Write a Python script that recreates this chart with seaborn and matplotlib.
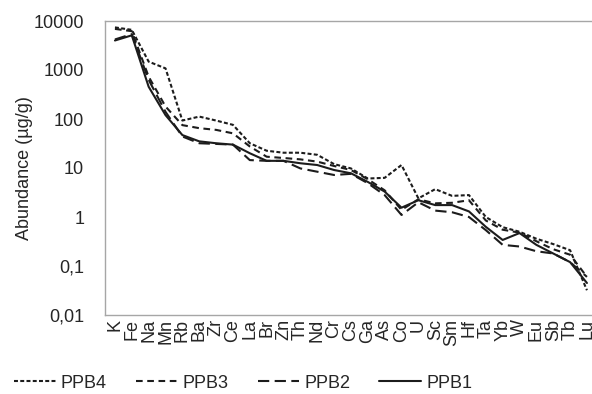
import matplotlib
matplotlib.use("Agg")
import matplotlib.pyplot as plt
from matplotlib.lines import Line2D
import seaborn as sns
import numpy as np
import pandas as pd

elements = ["K", "Fe", "Na", "Mn", "Rb", "Ba", "Zr", "Ce", "La", "Br", "Zn", "Th",
            "Nd", "Cr", "Cs", "Ga", "As", "Co", "U", "Sc", "Sm", "Hf", "Ta", "Yb",
            "W", "Eu", "Sb", "Tb", "Lu"]

ppb4 = [7400, 6600, 1480, 1080, 93, 112, 93, 76, 32, 22.5, 20.5, 20.5, 18.6, 12,
        9.8, 6.1, 6.3, 11.5, 2.4, 3.7, 2.7, 2.8, 1.0, 0.62, 0.50, 0.36, 0.28, 0.21, 0.032]
ppb3 = [6900, 6200, 730, 180, 75, 65, 60, 51, 27.5, 17, 16, 15, 13.5, 11,
        9.1, 5.9, 3.5, 1.4, 2.3, 1.9, 1.95, 2.2, 0.85, 0.55, 0.48, 0.32, 0.22, 0.17, 0.06]
ppb2 = [4200, 5400, 630, 140, 44, 32, 31, 30, 14.5, 14, 14, 9.8, 8.4, 7.2,
        7.6, 4.9, 2.8, 1.1, 2.0, 1.35, 1.25, 1.0, 0.54, 0.27, 0.25, 0.2, 0.18, 0.12, 0.06]
ppb1 = [4000, 5100, 455, 120, 47, 35, 32, 30, 20, 14, 14, 12.5, 11.5, 9.1,
        7.8, 5.2, 3.3, 1.55, 2.2, 1.75, 1.75, 1.3, 0.63, 0.34, 0.47, 0.27, 0.18, 0.12, 0.045]

samples = ["PPB4", "PPB3", "PPB2", "PPB1"]
series = {"PPB4": ppb4, "PPB3": ppb3, "PPB2": ppb2, "PPB1": ppb1}

y_ticks = [0.01, 0.1, 1, 10, 100, 1000, 10000]
y_ticklabels = ["0,01", "0,1", "1", "10", "100", "1000", "10000"]

df = pd.DataFrame([
    {"pos": i, "element": el, "sample": s, "value": v}
    for s in samples
    for i, (el, v) in enumerate(zip(elements, series[s]))
])

sns.set_style("white")
plt.rcParams["font.family"] = ["Liberation Sans", "DejaVu Sans"]

ink = "#1c1c1c"
text_c = "#262626"
lw = 1.5
fs = 13
dashes = {"PPB4": (1.9, 1.1), "PPB3": (3.2, 2.2), "PPB2": (5.4, 2.6), "PPB1": ""}

fig = plt.figure(figsize=(5.92, 3.94), dpi=100)
ax = fig.add_axes([105 / 592, 1 - 315 / 394, 1 - 105 / 592, (315 - 21) / 394])

sns.lineplot(data=df, x="pos", y="value", style="sample", style_order=samples,
             dashes=dashes, color=ink, linewidth=lw, legend=False, sort=False,
             estimator=None, ax=ax)

ax.set_yscale("log")
ax.set_ylim(0.01, 10000)
ax.set_xlim(-0.59, 28.3)
ax.set_yticks(y_ticks)
ax.set_yticklabels(y_ticklabels)
ax.yaxis.set_minor_locator(matplotlib.ticker.NullLocator())
ax.set_xticks(range(len(elements)))
ax.set_xticklabels(elements, rotation=90)

ax.tick_params(axis="y", length=0, pad=15, labelsize=fs, labelcolor=text_c)
ax.tick_params(axis="x", direction="in", length=3, width=0.8, color="#9a9a9a",
               pad=3, labelsize=fs, labelcolor=text_c)

ax.set_xlabel("")
ax.set_ylabel("Abundance (µg/g)", fontsize=fs, color=text_c)
ax.yaxis.set_label_coords(-0.148, 0.5)

for side in ["left", "bottom", "top"]:
    ax.spines[side].set_color("#a6a6a6")
    ax.spines[side].set_linewidth(1.0)
ax.spines["right"].set_visible(False)

handles = [Line2D([], [], color=ink, linewidth=lw,
                  linestyle=(0, dashes[s]) if dashes[s] else "-") for s in samples]
fig.legend(handles, samples, loc="center left", bbox_to_anchor=(14 / 592, 1 - 383 / 394),
           ncol=4, frameon=False, fontsize=fs, handlelength=2.3, handletextpad=0.3,
           columnspacing=1.6, borderpad=0, borderaxespad=0, labelcolor=text_c)

fig.savefig("out.png", dpi=100)
